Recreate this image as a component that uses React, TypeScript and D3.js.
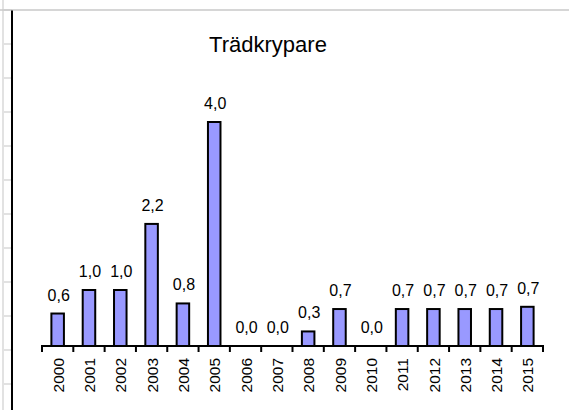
import React from "react";
import * as d3 from "d3";

const years = ["2000","2001","2002","2003","2004","2005","2006","2007","2008","2009","2010","2011","2012","2013","2014","2015"];
const values = [0.58, 1.0, 1.0, 2.18, 0.76, 4.0, 0, 0, 0.26, 0.66, 0, 0.66, 0.66, 0.66, 0.66, 0.7];
const title = "Trädkrypare";
const gridRows = [10, 44, 78, 112, 146, 180, 214, 248, 282, 316, 350, 384];

const W = 569, H = 410;
const FONT = "'Liberation Sans', Arial, sans-serif";

export default function App() {
  const x = d3.scaleBand<string>().domain(years).range([42, 543]).paddingInner(0.6).paddingOuter(0.3);
  const y = d3.scaleLinear().domain([0, 4]).range([346, 122]);
  const step = x.step();
  const fmt = (v: number) => d3.format(".1f")(v).replace(".", ",");
  const boundaries = d3.range(years.length + 1).map((i) => x.range()[0] + i * step);

  return (
    <svg width={W} height={H} style={{ position: "absolute", left: 0, top: 0, background: "#fff" }} fontFamily={FONT}>
      {/* spreadsheet background */}
      <line x1={3} x2={3} y1={0} y2={H} stroke="#e2e2e2" strokeWidth={2} />
      {gridRows.map((gy) => (
        <line key={gy} x1={3} x2={12} y1={gy} y2={gy} stroke="#e2e2e2" strokeWidth={2} />
      ))}
      <line x1={0} x2={W} y1={10} y2={10} stroke="#c8c8c8" strokeWidth={1.5} />
      <line x1={12} x2={12} y1={10.5} y2={H} stroke="#000" strokeWidth={2} />

      <text x={268} y={52} textAnchor="middle" fontSize={22} fill="#000">{title}</text>

      {years.map((yr, i) => {
        const bx = x(yr)!;
        const v = values[i];
        return (
          <g key={yr}>
            {v > 0 && (
              <rect x={bx} y={y(v)} width={x.bandwidth()} height={y(0) - y(v)} fill="#9999FF" stroke="#000" strokeWidth={2} />
            )}
            <text x={bx + x.bandwidth() / 2 + 1} y={y(v) - 13} textAnchor="middle" fontSize={16} fill="#000">{fmt(v)}</text>
            <text transform={`translate(${bx + x.bandwidth() / 2 + 0.5},358) rotate(-90)`} dy="0.36em" textAnchor="end" fontSize={15.5} fill="#000">{yr}</text>
          </g>
        );
      })}

      <line x1={boundaries[0] - 1} x2={boundaries[boundaries.length - 1] + 1} y1={346} y2={346} stroke="#000" strokeWidth={2} />
      {boundaries.map((bx, i) => (
        <line key={i} x1={bx} x2={bx} y1={346} y2={352} stroke="#000" strokeWidth={2} />
      ))}
    </svg>
  );
}
